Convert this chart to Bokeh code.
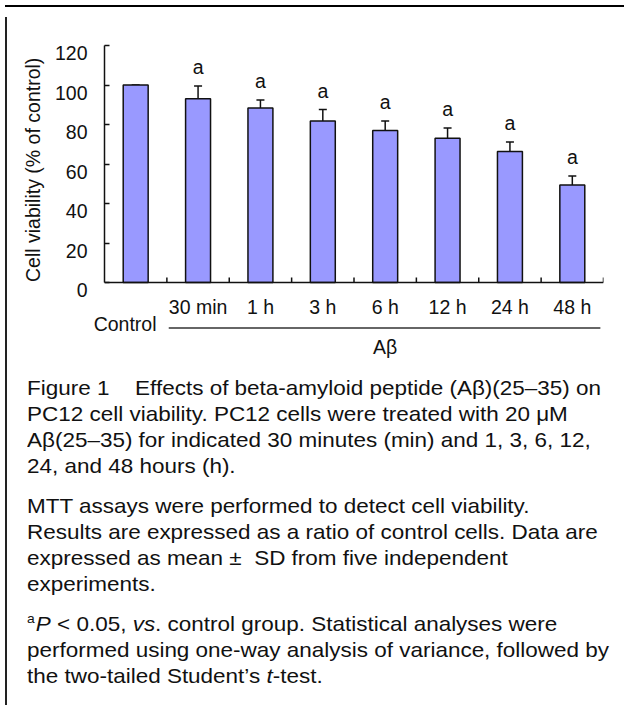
from bokeh.plotting import figure
from bokeh.models import (Range1d, LinearAxis, FixedTicker, Whisker, TeeHead, ColumnDataSource,
                          Span, Div, Title)
from bokeh.layouts import column, row
from bokeh.embed import file_html
from bokeh.resources import INLINE
from bokeh.core.properties import value

# ---------------- data ----------------
categories = ["Control", "30 min", "1 h", "3 h", "6 h", "12 h", "24 h", "48 h"]
viability = [100.0, 93.1, 88.3, 81.8, 77.0, 73.0, 66.4, 49.4]
viability_sd = [0.0, 6.4, 4.1, 5.8, 4.8, 5.2, 4.7, 4.5]
significance = ["", "a", "a", "a", "a", "a", "a", "a"]
y_ticks = [0, 20, 40, 60, 80, 100, 120]
y_axis_title = "Cell viability (% of control)"
control_name = "Control"
group_name = "A\u03b2"

# ---------------- style ----------------
FONT = "Liberation Sans"
FS = "19.5px"
INK = "#111111"
BAR = "#9999FF"
Y_MIN = -42          # room under the zero line for the group annotations
PX_PER_UNIT = 1.975  # vertical pixels per % unit (frame 237 px for 0..120)

x_idx = list(range(len(categories)))
treated = [i for i, c in enumerate(categories) if c != control_name]
upper = [m + s for m, s in zip(viability, viability_sd)]
src = ColumnDataSource(dict(x=x_idx, y=viability, upper=upper))
sig_src = ColumnDataSource(dict(x=[x_idx[i] for i, s in enumerate(significance) if s],
                                upper=[upper[i] for i, s in enumerate(significance) if s],
                                sig=[s for s in significance if s]))
lab_src = ColumnDataSource(dict(x=treated, y=[0] * len(treated),
                                t=[categories[i] for i in treated]))

p = figure(width=617, height=355, title=None,
           x_range=Range1d(-0.5, len(categories) - 0.5), y_range=Range1d(Y_MIN, 120),
           x_axis_location=None,
           output_backend="svg", toolbar_location=None,
           min_border_left=92, min_border_right=26, min_border_top=33, min_border_bottom=2)
p.outline_line_color = None
p.grid.grid_line_color = None
p.background_fill_color = "white"
p.border_fill_color = "white"

p.vbar(x="x", top="y", bottom=0, width=0.4, source=src,
       fill_color=BAR, line_color=INK, line_width=1.5)

p.add_layout(Whisker(source=src, base="x", upper="upper", lower="y", dimension="height",
                     line_color=INK, line_width=1.5,
                     upper_head=TeeHead(size=8, line_color=INK, line_width=1.5),
                     lower_head=None))

p.text(x="x", y="upper", text="sig", source=sig_src, text_align="center",
       text_baseline="alphabetic", y_offset=-19, text_font=value(FONT),
       text_font_size=value(FS), text_color=INK)

# x axis line at zero with ticks between the groups
p.add_layout(Span(location=0, dimension="width", line_color=INK, line_width=1.5))
bounds_x = [i + 0.5 for i in x_idx]
p.segment(x0=bounds_x, y0=[0] * len(bounds_x), x1=bounds_x,
          y1=[5 / PX_PER_UNIT] * len(bounds_x), line_color=INK, line_width=1.5)

# category labels, group bracket
p.text(x="x", y="y", text="t", source=lab_src, text_align="center", text_baseline="alphabetic",
       y_offset=24, text_font=value(FONT), text_font_size=value(FS), text_color=INK)
p.segment(x0=[treated[0] - 0.47], y0=[-23.0], x1=[treated[-1] + 0.45], y1=[-23.0],
          line_color="#333333", line_width=1.5)
p.text(x=[sum(treated) / len(treated)], y=[0], text=[group_name], text_align="center",
       text_baseline="alphabetic", y_offset=64.5, text_font=value(FONT),
       text_font_size=value(FS), text_color=INK)

# y axis: line and inward ticks only over 0..120
yax = p.yaxis[0]
yax.bounds = (y_ticks[0], y_ticks[-1])
yax.ticker = FixedTicker(ticks=[], minor_ticks=y_ticks)
yax.major_tick_in = 0
yax.major_tick_out = 0
yax.minor_tick_in = 5
yax.minor_tick_out = 0
yax.minor_tick_line_color = INK
yax.minor_tick_line_width = 1.5
yax.axis_line_color = INK
yax.axis_line_width = 1.5
yax.major_label_standoff = 0

# "Control" label, left of the bracket (reaches a little past the y axis)
ctl_shift = 21.1
p.extra_y_ranges = {"ctl": Range1d(Y_MIN + ctl_shift, 120 + ctl_shift)}
ctl = LinearAxis(y_range_name="ctl", ticker=FixedTicker(ticks=[0]),
                 major_label_overrides={0: control_name},
                 axis_line_color=None, major_tick_line_color=None, minor_tick_line_color=None,
                 major_tick_in=0, major_tick_out=0, minor_tick_out=0,
                 major_label_standoff=-52, major_label_text_font=FONT,
                 major_label_text_font_size=FS, major_label_text_color=INK)
p.add_layout(ctl, "left")

# tick labels sit a little below their ticks, as in the original
shift = 7.5 / PX_PER_UNIT
p.extra_y_ranges["ylab"] = Range1d(Y_MIN + shift, 120 + shift)
ylab = LinearAxis(y_range_name="ylab", ticker=FixedTicker(ticks=y_ticks),
                  axis_line_color=None, major_tick_line_color=None, minor_tick_line_color=None,
                  major_tick_in=0, major_tick_out=0, minor_tick_out=0,
                  major_label_standoff=3, major_label_text_font=FONT,
                  major_label_text_font_size=FS, major_label_text_color=INK)
p.add_layout(ylab, "left")
p.add_layout(Title(text=y_axis_title, align="left", offset=83.5, vertical_align="top",
                   standoff=12, text_font=FONT, text_font_size=FS, text_font_style="normal",
                   text_color=INK), "left")

# ---------------- caption ----------------
gap = '<span style="display:inline-block;width:24px"></span>'
sup_a = '<span style="position:relative;top:-8px;font-size:13px;margin-right:1px">a</span>'
para1 = [f"Figure 1{gap}Effects of beta-amyloid peptide (A\u03b2)(25\u201335) on",
         "PC12 cell viability. PC12 cells were treated with 20 \u03bcM",
         "A\u03b2(25\u201335) for indicated 30 minutes (min) and 1, 3, 6, 12,",
         "24, and 48 hours (h)."]
para2 = ["MTT assays were performed to detect cell viability.",
         "Results are expressed as a ratio of control cells. Data are",
         "expressed as mean \u00b1&nbsp; SD from five independent",
         "experiments."]
para3 = [f"{sup_a}<i>P</i> &lt; 0.05, <i>vs</i>. control group. Statistical analyses were",
         "performed using one-way analysis of variance, followed by",
         "the two-tailed Student\u2019s <i>t</i>-test."]

LH = 26.2


def para_html(lines, first):
    mt = 0 if first else 13.3
    inner = "".join(
        f'<div style="white-space:nowrap;height:{LH}px;line-height:{LH}px">{l}</div>' for l in lines)
    return f'<div style="margin-top:{mt}px">{inner}</div>'


cap_html = (
    '<div style="position:relative;width:617px;height:333px">'
    '<div style="position:absolute;left:9.5px;top:2.6px;'
    "font-family:'Liberation Sans',Arial,sans-serif;font-size:21px;color:#111111;"
    'transform:scaleX(1.07);transform-origin:0 0">'
    + para_html(para1, True) + para_html(para2, False) + para_html(para3, False)
    + '</div></div>'
)
cap = Div(text=cap_html, width=617, height=333)

top_rule = Div(text="", width=619, height=2, styles={"background-color": "#000000"})
left_rule = Div(text="", width=2, height=688, styles={"background-color": "#222222"})

layout = column(top_rule, row(left_rule, column(p, cap)))

open("out.html", "w").write(file_html(layout, INLINE))
